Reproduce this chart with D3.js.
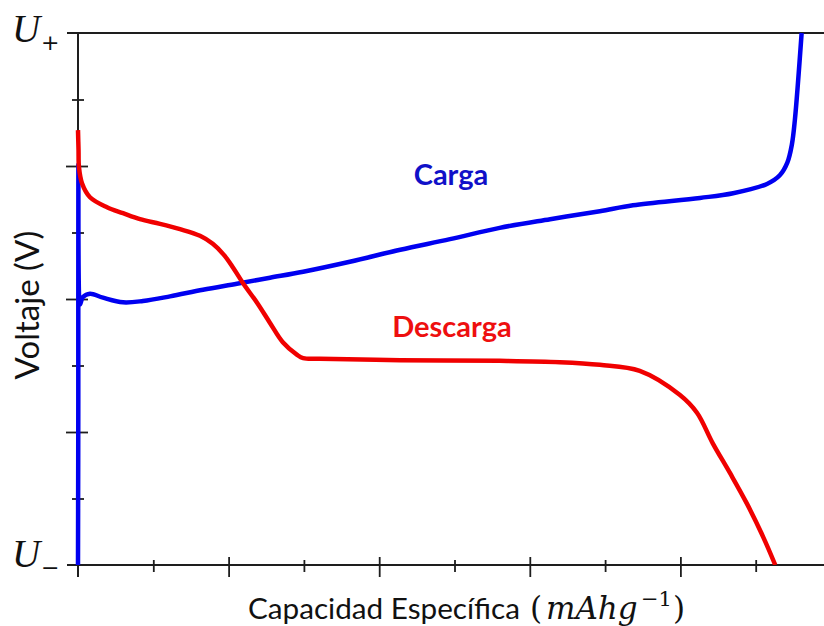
<!DOCTYPE html>
<html><head><meta charset="utf-8">
<script src="https://cdn.jsdelivr.net/npm/d3@7"></script>
<style>body{margin:0;background:#fff}svg{display:block}</style>
</head><body>
<svg id="c" width="824" height="626"></svg>
<script>
// Charge (Carga) curve, capacity units vs voltage units (U- = 0, U+ = 8)
const cargaX = [0, 0.004, 0.005, 0.017, 0.027, 0.066, 0.159, 0.332, 0.598, 0.863, 1.222, 1.66, 2.11, 2.55, 2.99, 3.61, 4.28, 4.94, 5.60, 6.27, 6.93, 7.37, 8.26, 8.70, 9.15, 9.32, 9.42, 9.48, 9.52, 9.61];
const cargaY = [0, 2.48, 6.02, 3.98, 3.92, 4.03, 4.08, 4.02, 3.95, 3.97, 4.04, 4.14, 4.23, 4.32, 4.41, 4.56, 4.74, 4.90, 5.07, 5.20, 5.32, 5.41, 5.52, 5.59, 5.73, 5.86, 6.05, 6.32, 6.69, 8.0];
// Discharge (Descarga) curve
const descargaX = [0, 0.007, 0.013, 0.053, 0.159, 0.385, 0.598, 0.823, 1.089, 1.355, 1.62, 1.79, 1.94, 2.06, 2.19, 2.38, 2.55, 2.72, 2.91, 2.99, 3.21, 4.28, 5.60, 6.40, 6.93, 7.46, 7.99, 8.22, 8.43, 8.66, 8.88, 9.10, 9.26];
const descargaY = [6.54, 6.24, 5.98, 5.74, 5.53, 5.38, 5.29, 5.20, 5.13, 5.05, 4.95, 4.83, 4.66, 4.47, 4.24, 3.94, 3.64, 3.35, 3.16, 3.11, 3.10, 3.08, 3.07, 3.05, 3.01, 2.92, 2.56, 2.29, 1.83, 1.38, 0.93, 0.42, 0];
const xMajorTicks = [2, 4, 6, 8];
const xMinorTicks = [1, 3, 5, 7, 9];
const yMajorTicks = [2, 4, 6];
const yMinorTicks = [1, 3, 5, 7];
const seriesLabels = ["Carga", "Descarga"];
const seriesColors = ["#0000f0", "#f00000"];

const svg = d3.select("#c");
const L = 78, T = 33, B = 565;
const x = d3.scaleLinear().domain([0, 1]).range([L, L + 75.3]);
const y = d3.scaleLinear().domain([0, 8]).range([B, T]);
const axisColor = "#1e1e1e";

// frame lines
svg.append("line").attr("x1", 67).attr("x2", 824).attr("y1", y(8)).attr("y2", y(8))
  .attr("stroke", axisColor).attr("stroke-width", 2);
svg.append("line").attr("x1", 67).attr("x2", 824).attr("y1", y(0)).attr("y2", y(0))
  .attr("stroke", axisColor).attr("stroke-width", 2);

// y axis
function yAxis(ticks, l, r) {
  const g = svg.append("g").attr("transform", `translate(${L},0)`)
    .call(d3.axisLeft(y).tickValues(ticks).tickSize(0).tickFormat(""));
  g.select(".domain").remove();
  g.selectAll(".tick line").attr("x1", -l).attr("x2", r).attr("stroke", axisColor).attr("stroke-width", 1.8);
}
yAxis(yMajorTicks, 12, 10);
yAxis(yMinorTicks, 6, 6);
svg.append("line").attr("x1", L).attr("x2", L).attr("y1", y(8)).attr("y2", B + 12)
  .attr("stroke", axisColor).attr("stroke-width", 2);

// x axis
function xAxis(ticks, u, d) {
  const g = svg.append("g").attr("transform", `translate(0,${B})`)
    .call(d3.axisBottom(x).tickValues(ticks).tickSize(0).tickFormat(""));
  g.select(".domain").remove();
  g.selectAll(".tick line").attr("y1", -u).attr("y2", d).attr("stroke", axisColor).attr("stroke-width", 1.8);
}
xAxis(xMajorTicks, 8, 12);
xAxis(xMinorTicks, 5, 7);

// curves
const line = d3.line().x(d => x(d[0])).y(d => y(d[1])).curve(d3.curveCatmullRom.alpha(0.5));
const clipId = "clp";
svg.append("clipPath").attr("id", clipId).append("rect").attr("x", L - 3).attr("y", T - 1).attr("width", 824 - L).attr("height", B - T + 1);
const series = [
  cargaX.map((v, i) => [v, cargaY[i]]),
  descargaX.map((v, i) => [v, descargaY[i]])
];
series.forEach((s, i) => {
  svg.append("path").attr("d", line(s)).attr("fill", "none")
    .attr("stroke", seriesColors[i]).attr("stroke-width", 4.5)
    .attr("stroke-linejoin", "round").attr("stroke-linecap", "butt")
    .attr("clip-path", `url(#${clipId})`);
});

// series labels
svg.append("text").attr("x", 451).attr("y", 185).attr("text-anchor", "middle")
  .attr("font-family", "Lato").attr("font-weight", "bold").attr("font-size", 29)
  .attr("fill", "#1010c8").text(seriesLabels[0]);
svg.append("text").attr("x", 452).attr("y", 337).attr("text-anchor", "middle")
  .attr("font-family", "Lato").attr("font-weight", "bold").attr("font-size", 29)
  .attr("fill", "#ee0f0f").text(seriesLabels[1]);

// U labels
function ulabel(yy, sub) {
  svg.append("text").attr("x", 12).attr("y", yy).attr("font-family", "Liberation Serif")
    .attr("font-style", "italic").attr("font-size", 39).attr("fill", "#111").text("U");
  svg.append("text").attr("x", 41).attr("y", yy).attr("dy", "0.35em")
    .attr("font-family", "DejaVu Sans").attr("font-size", 22).attr("fill", "#111").text(sub);
}
ulabel(y(8) + 9, "+");
ulabel(y(0) + 2, "\u2212");

// axis titles
svg.append("text").attr("transform", `translate(39,305) rotate(-90)`).attr("text-anchor", "middle")
  .attr("font-family", "Lato").attr("font-size", 33).attr("fill", "#111").text("Voltaje (V)");
const xt = svg.append("text").attr("y", 619).attr("fill", "#111");
xt.append("tspan").attr("x", 248).attr("font-family", "Lato").attr("font-size", 29)
  .attr("textLength", 272).attr("lengthAdjust", "spacingAndGlyphs").text("Capacidad Específica");
xt.append("tspan").attr("x", 530).attr("font-family", "DejaVu Serif").attr("font-size", 31).text("(");
xt.append("tspan").attr("x", 546).attr("font-family", "DejaVu Serif").attr("font-style", "italic").attr("font-size", 31).text("mAhg");
xt.append("tspan").attr("x", 641).attr("dy", -13).attr("font-family", "DejaVu Serif").attr("font-size", 21).text("\u22121");
xt.append("tspan").attr("x", 673).attr("dy", 13).attr("font-family", "DejaVu Serif").attr("font-size", 31).text(")");
</script>
</body></html>
